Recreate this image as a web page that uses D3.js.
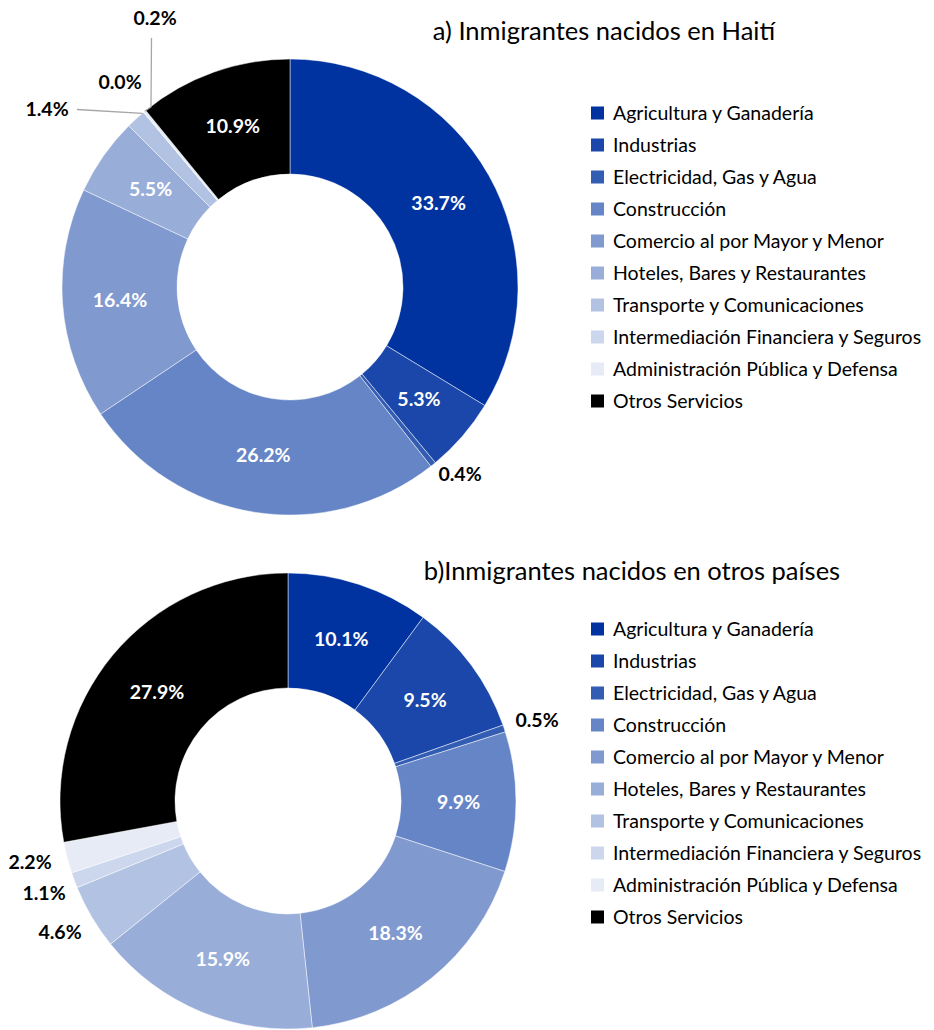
<!DOCTYPE html>
<html><head><meta charset="utf-8">
<script src="https://cdn.jsdelivr.net/npm/d3@7"></script>
<style>
html,body{margin:0;padding:0;background:#fff;}
svg{display:block;font-family:Lato,"Open Sans",sans-serif;}
</style></head>
<body>
<svg id="chart" width="934" height="1030"></svg>
<script>
// ---- data ----
const categories = [
  "Agricultura y Ganadería",
  "Industrias",
  "Electricidad, Gas y Agua",
  "Construcción",
  "Comercio al por Mayor y Menor",
  "Hoteles, Bares y Restaurantes",
  "Transporte y Comunicaciones",
  "Intermediación Financiera y Seguros",
  "Administración Pública y Defensa",
  "Otros Servicios"
];
const haitiValues = [33.7, 5.3, 0.4, 26.2, 16.4, 5.5, 1.4, 0.0, 0.2, 10.9];
const otrosValues = [10.1, 9.5, 0.5, 9.9, 18.3, 15.9, 4.6, 1.1, 2.2, 27.9];
const titles = ["a) Inmigrantes nacidos en Haití", "b)Inmigrantes nacidos en otros países"];
const colors = ["#0033a0","#1a47a9","#335cb3","#6685c6","#8099cf","#99add9","#b2c2e2","#ccd6ec","#e6ebf5","#000000"];

// ---- layout ----
const svg = d3.select("#chart");
const R = 228, r = 113;
const color = d3.scaleOrdinal().domain(categories).range(colors);
const pie = d3.pie().sort(null).value(d => d.v);
const arc = d3.arc().innerRadius(r).outerRadius(R);
const fmt = v => v.toFixed(1) + "%";

const panels = [
  {values: haitiValues, cx: 290, cy: 287, title: titles[0], tx: 604, ty: 40, ly: 113,
   outside: {
     2: {x: 170, y: 187},
     6: {x: -243, y: -178, leader: [[-213, -177.5]], frac: 0.92},
     7: {x: -170, y: -205},
     8: {x: -135, y: -269, leader: [[-138.5, -249], [-139, -180]], frac: 0.5}
   }},
  {values: otrosValues, cx: 288, cy: 801, title: titles[1], tx: 632, ty: 580, ly: 629,
   outside: {
     2: {x: 249, y: -81},
     6: {x: -228, y: 131},
     7: {x: -244, y: 92},
     8: {x: -258, y: 61}
   }}
];

panels.forEach(p => {
  const data = categories.map((c, i) => ({c, v: p.values[i], i}));
  const g = svg.append("g").attr("transform", `translate(${p.cx},${p.cy})`);
  const arcs = pie(data);
  g.selectAll("path.slice").data(arcs).join("path")
    .attr("class", "slice")
    .attr("d", arc)
    .attr("fill", d => color(d.data.c))
    .attr("stroke", "#fff").attr("stroke-width", 0.6).attr("stroke-opacity", 0.8);

  // inside labels
  g.selectAll("text.in").data(arcs.filter(d => !(d.data.i in p.outside))).join("text")
    .attr("class", "in")
    .attr("transform", d => `translate(${arc.centroid(d)})`)
    .attr("text-anchor", "middle").attr("dy", "0.36em")
    .attr("fill", "#fff").attr("font-weight", 700).attr("font-size", 19.5)
    .text(d => fmt(d.data.v));

  // outside labels
  arcs.filter(d => d.data.i in p.outside).forEach(d => {
    const o = p.outside[d.data.i];
    if (o.leader) {
      const a = d.startAngle + (d.endAngle - d.startAngle) * o.frac;
      const end = [Math.sin(a) * R, -Math.cos(a) * R];
      g.append("path")
        .attr("d", d3.line()([...o.leader, end]))
        .attr("fill", "none").attr("stroke", "#a6a6a6").attr("stroke-width", 1.3);
    }
    g.append("text")
      .attr("x", o.x).attr("y", o.y)
      .attr("text-anchor", "middle").attr("dy", "0.36em")
      .attr("fill", "#000").attr("font-weight", 700).attr("font-size", 19.5)
      .text(fmt(d.data.v));
  });

  // title
  svg.append("text").attr("x", p.tx).attr("y", p.ty)
    .attr("text-anchor", "middle").attr("font-size", 25.5).attr("fill", "#000")
    .text(p.title);

  // legend
  const y = d3.scalePoint().domain(categories).range([p.ly, p.ly + 32 * 9]);
  const lg = svg.append("g");
  const row = lg.selectAll("g").data(categories).join("g")
    .attr("transform", c => `translate(591,${y(c)})`);
  row.append("rect").attr("x", 0).attr("y", -6.5).attr("width", 13).attr("height", 13)
    .attr("fill", c => color(c));
  row.append("text").attr("x", 22).attr("dy", "0.35em")
    .attr("font-size", 19.5).attr("fill", "#000").text(c => c);
});
</script>
</body></html>
